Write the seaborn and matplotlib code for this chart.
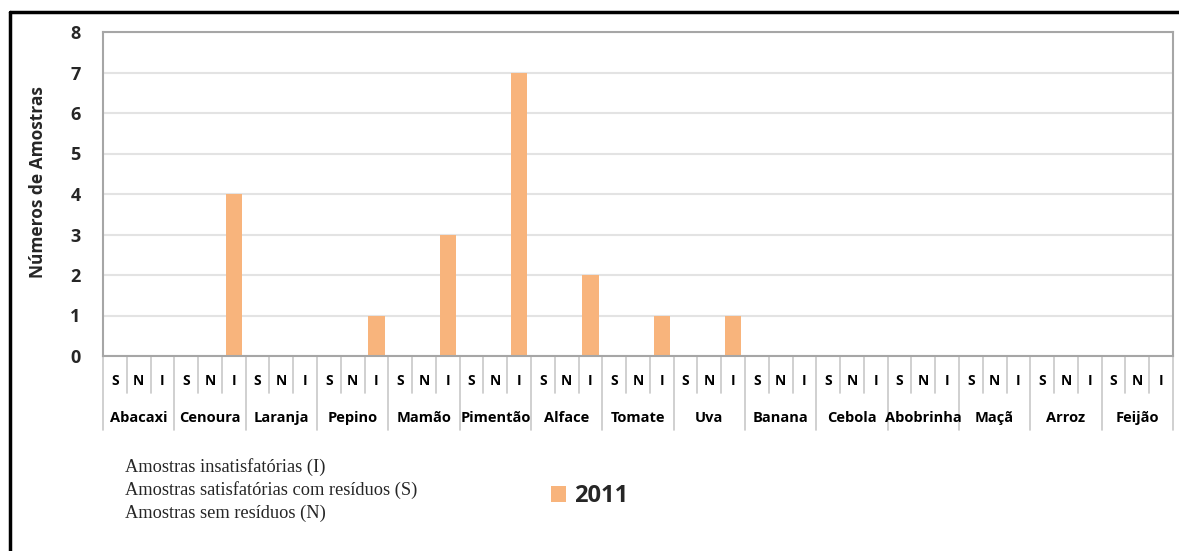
import numpy as np
import pandas as pd
import matplotlib
matplotlib.use("Agg")
import matplotlib.pyplot as plt
import matplotlib.transforms as mtransforms
from matplotlib.lines import Line2D
import seaborn as sns

# data
categorias = ["Abacaxi", "Cenoura", "Laranja", "Pepino", "Mamão", "Pimentão", "Alface",
              "Tomate", "Uva", "Banana", "Cebola", "Abobrinha", "Maçã", "Arroz", "Feijão"]
subgrupos = ["S", "N", "I"]
valores_S = [0, 0, 0, 0, 0, 0, 0, 0, 0, 0, 0, 0, 0, 0, 0]
valores_N = [0, 0, 0, 0, 0, 0, 0, 0, 0, 0, 0, 0, 0, 0, 0]
valores_I = [0, 4, 0, 1, 3, 7, 2, 1, 1, 0, 0, 0, 0, 0, 0]
serie = "2011"
legenda_texto = ["Amostras insatisfatórias (I)",
                 "Amostras satisfatórias com resíduos (S)",
                 "Amostras sem resíduos (N)"]

rows = []
for i, cat in enumerate(categorias):
    for sub, vals in zip(subgrupos, [valores_S, valores_N, valores_I]):
        rows.append({"cat": cat, "sub": sub, "slot": f"{cat}|{sub}", "valor": vals[i]})
df = pd.DataFrame(rows)
ordem = list(df["slot"])

sns.set_style("white")
plt.rcParams["font.family"] = ["Open Sans", "DejaVu Sans"]

fig = plt.figure(figsize=(11.79, 5.51), dpi=100)
ax = fig.add_axes([103 / 1179, 1 - 356 / 551, 1070 / 1179, 324 / 551])

cor = "#F8B47C"
sns.barplot(data=df, x="slot", y="valor", order=ordem, color=cor, width=0.68,
            saturation=1, linewidth=0, label=serie, ax=ax)

ax.set_xlim(-0.5, len(ordem) - 0.5)
ax.set_ylim(0, 8)
ax.set_yticks(range(0, 9))
ax.set_yticklabels([str(v) for v in range(0, 9)], fontsize=13, fontweight="bold")
ax.tick_params(axis="y", length=0, pad=16)
ax.set_xticks([])
ax.set_xlabel("")
ax.set_ylabel("Números de Amostras", fontsize=12.5, fontweight="bold")
ax.yaxis.set_label_coords(-56 / 1070, (356 - 182) / 324)
ax.yaxis.grid(True, color="#E3E3E3", linewidth=1.5)
ax.set_axisbelow(True)
for s in ax.spines.values():
    s.set_visible(True)
    s.set_color("#A6A6A6")
    s.set_linewidth(1.5)

# category axis labels below the plot
trans = mtransforms.blended_transform_factory(ax.transData, ax.transAxes)
y_sub = -0.078
y_cat = -0.19
for k, slot in enumerate(ordem):
    sub = slot.split("|")[1]
    ax.text(k, y_sub, sub, transform=trans, ha="center", va="center",
            fontsize=10, fontweight="bold", color="black")
for i, cat in enumerate(categorias):
    ax.text(3 * i + 1, y_cat, cat, transform=trans, ha="center", va="center",
            fontsize=10.5, fontweight="bold", color="black")
for k in range(len(ordem) + 1):
    fundo = -0.228 if k % 3 == 0 else -0.113
    ax.add_line(Line2D([k - 0.5, k - 0.5], [0, fundo], transform=trans,
                       color="#C8C8C8", linewidth=1.2, clip_on=False))

# legend
for j, y in enumerate([467, 490, 513]):
    fig.text(125 / 1179, 1 - y / 551, legenda_texto[j], family="Liberation Serif",
             fontsize=13.2, va="center")
leg = ax.legend(loc="center left", bbox_to_anchor=(551 / 1179, 1 - 496 / 551),
                bbox_transform=fig.transFigure, frameon=False,
                prop={"weight": "bold", "size": 17}, handlelength=0.64,
                handleheight=0.64, handletextpad=0.35, borderpad=0, borderaxespad=0)

# outer frame (top and left)
fig.add_artist(Line2D([10 / 1179, 1], [1 - 12 / 551, 1 - 12 / 551],
                      transform=fig.transFigure, color="black", linewidth=2.5))
fig.add_artist(Line2D([10 / 1179, 10 / 1179], [0, 1 - 12 / 551],
                      transform=fig.transFigure, color="black", linewidth=2.5))

fig.savefig("out.png", dpi=100)
